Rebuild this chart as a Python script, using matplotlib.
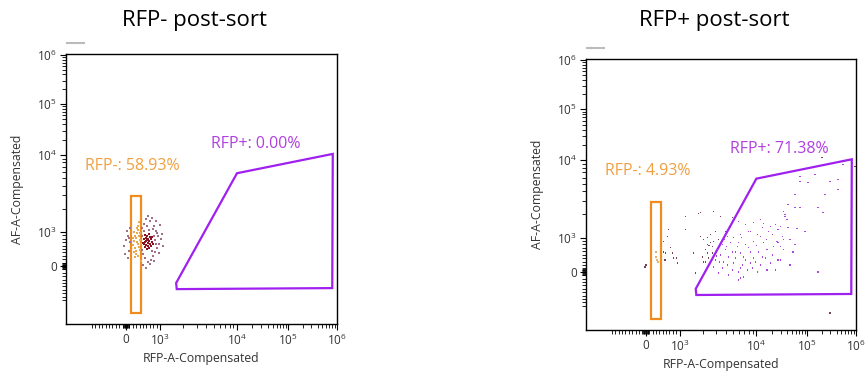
import numpy as np
import matplotlib
matplotlib.use('Agg')
import matplotlib.pyplot as plt
from matplotlib.patches import Polygon
from matplotlib.path import Path

plt.rcParams['font.family'] = ['Open Sans', 'DejaVu Sans']
plt.rcParams['mathtext.default'] = 'regular'

# ---------------- data ----------------
titles = ['RFP- post-sort', 'RFP+ post-sort']
neg_pct = [58.93, 4.93]
pos_pct = [0.00, 71.38]

# gates in (RFP-A, AF-A) units
neg_gate_x = [160, 440, 440, 160]
neg_gate_y = [-1380, -1380, 2930, 2930]
pos_gate_x = [1620, 10000, 820000, 800000, 1650]
pos_gate_y = [-500, 5800, 10500, -650, -680]

# RFP- sorted sample: dense core and the rest of the cloud
left_core_x = [530, 560, 590, 620, 650, 680, 590, 560, 650, 710, 740, 620, 680, 760, 530,
               500, 710, 590, 650, 740, 790, 560, 680, 620, 760]
left_core_y = [650, 710, 620, 760, 680, 740, 820, 560, 590, 650, 790, 880, 530, 710, 790,
               680, 850, 740, 790, 590, 650, 910, 940, 500, 850]
left_x = [240, 290, 350, 260, 320, 380, 210, 290, 350, 410, 260, 320, 380, 240, 350, 290,
          410, 210, 320, 380, 260, 350, 410, 240,
          -60, 0, 60, 90, 120, 30, -30, 120, 60, 90,
          470, 530, 590, 710, 820, 880, 940, 1030, 970, 910, 850, 790, 740, 650, 560, 500,
          470, 850, 910, 1000, 790, 760, 880, 1060, 820, 710, 590, 500, 440, 970, 1090, 680,
          620, 530, 470, 440, 820, 880, 760, 650]
left_y = [740, 820, 650, 530, 970, 880, 620, 440, 1060, 760, 880, 710, 560, 1000, 1200, 350,
          470, 820, 1130, 1350, 260, 290, 970, 410,
          590, 760, 880, 440, 710, 1030, 350, 1130, 240, 820,
          1130, 1270, 1480, 1390, 1200, 1030, 880, 790, 650, 530, 410, 290, 180, 120, 240, 350,
          470, 760, 970, 1230, 1090, 440, 650, 940, 150, 60, -60, 30, 150, 380, 590, 1060,
          1200, 1030, 880, 650, 880, 1390, 1520, 1610]

# RFP+ sorted sample
right_x = [676, 647, 529, 529, 588, 735, 794, 824, 912, 941, 559, 0, -29, 294, 324, 294, 353,
           1197, 1765, 1875, 1520, 1990, 2177, 2420, 2310, 1613, 1875, 1197, 2763,
           3405, 4875, 7194, 9140, 18800, 13100, 23600, 8356, 6195, 10460, 20600, 4198, 5023,
           3210, 2763, 2528, 2310, 2177, 3614, 4592, 5662, 7194, 9140, 13700, 25800, 16400,
           10940, 8356, 6195, 4875, 3955, 3116, 3405, 4326, 5333, 6777, 9140, 13100, 20600,
           2936, 3724, 5023, 6577, 8356, 11970, 18800, 27000, 2763, 3614, 4875, 5834, 7638,
           10460, 16400, 23600, 3210, 4326, 6777, 5834, 2680, 2380, 2050, 2310, 2936, 2528, 2050,
           4074, 5834, 7925, 10000, 15700, 5333, 7194, 9706, 15000, 4198, 3025, 3840, 6385,
           11970, 7925, 4592, 2680, 3305, 8871, 6195, 33900, 46400, 17200, 11970, 5834, 21600,
           58200, 29600, 3955, 6195, 13700,
           72900, 104800, 146000, 295000, 429000, 429000, 58200, 233000, 42400, 58200, 72900,
           168000, 212000, 33900, 37000, 40500, 29600, 27000, 42400, 63700, 91400, 32400,
           33900, 27000, 29600, 53100, 46400, 168000, 295000, 200000, 543000, 955000, 72900,
           37000]
right_y = [1271, 1030, 882, 588, 559, 706, 559, 412, 412, 265, 353, 206, 147, 441, 353, 588, 294,
           1875, 2050, 1030, 559, 441, 294, 765, 559, -29, 2110, 1271, 2177,
           1875, 1820, 1475, 1565, 1390, 1350, 1475, 1197, 1093, 1093, 1093, 1030, 1000,
           941, 882, 853, 794, 647, 794, 853, 735, 794, 882, 853, 882, 647,
           588, 588, 559, 588, 647, 647, 500, 441, 412, 441, 412, 441, 500,
           353, 294, 265, 206, 265, 206, 265, 353, 147, 118, 59, 0, 59,
           0, 59, 59, -29, -88, -147, -235, 559, 412, 294, 1000, 1197, 1093, 941,
           735, 853, 706, 765, 941, 588, 353, 294, 412, 206, 470, 941, 1000,
           1030, 1197, 1350, 735, 294, 118, 118, 647, 941, 1197, 1710, 1613, 735,
           794, 353, 1197, -176, 1520,
           5333, 5180, 6577, 5333, 5662, 4198, 3614, 3614, 2680, 2450, 2450,
           2450, 2110, 2177, 1875, 1710, 1390, 1271, 1350, 1310, 1197, 1030,
           941, 853, 735, 588, 206, 0, -1205, 11460, 8871, 8356, 6195,
           2000]

x_ticks = [0, 1e3, 1e4, 1e5, 1e6]
tick_labels = ['0', '$10^3$', '$10^4$', '$10^5$', '$10^6$']

# ---------------- biexponential-like axis ----------------
U_KNOT = [1, 2, 3, 4]
P_KNOT = [34, 111, 162, 211]


def fwd(v):
    v = np.asarray(v, dtype=float)
    u = np.where(v > 1000, 1 + np.log10(np.maximum(v, 1000) / 1000), v / 1000)
    return np.where(u < 1, 34 * u, np.interp(u, U_KNOT, P_KNOT) + 49 * np.maximum(u - 4, 0))


def inv(p):
    p = np.asarray(p, dtype=float)
    u = np.where(p < 34, p / 34, np.interp(p, P_KNOT, U_KNOT) + np.maximum(p - 211, 0) / 49)
    return np.where(u < 1, u * 1000, 1000 * 10 ** (np.maximum(u, 1) - 1))


minor = list(np.arange(-1000, 0, 100)) + list(np.arange(-80, 81, 20)) + list(np.arange(100, 1000, 100))
for d in [1e3, 1e4, 1e5]:
    minor += [d * k for k in range(2, 10)]

ORANGE = '#f08c1e'
ORANGE_TXT = '#f0a040'
PURPLE = '#a020f0'
PURPLE_TXT = '#b040e0'


def in_gate(xs, ys, gx, gy):
    poly = Path(np.column_stack([fwd(gx), fwd(gy)]))
    return poly.contains_points(np.column_stack([fwd(xs), fwd(ys)]))


def setup(ax):
    ax.set_xscale('function', functions=(fwd, inv))
    ax.set_yscale('function', functions=(fwd, inv))
    ax.set_xlim(inv(-60), inv(211))
    ax.set_ylim(inv(-58), inv(212))
    ax.set_xticks(x_ticks, tick_labels)
    ax.set_yticks(x_ticks, tick_labels)
    ax.set_xticks(minor, minor=True)
    ax.set_yticks(minor, minor=True)
    ax.tick_params(which='major', direction='out', length=4.5, width=0.8, labelsize=8.5,
                   labelcolor='#333333', pad=2)
    ax.tick_params(which='minor', direction='out', length=3, width=0.6)
    for s in ax.spines.values():
        s.set_linewidth(1.0)
    ax.set_xlabel('RFP-A-Compensated', fontsize=8.8, color='#333333')
    ax.set_ylabel('AF-A-Compensated', fontsize=8.8, color='#333333')
    ax.xaxis.set_label_coords(0.5, -0.105)
    ax.yaxis.set_label_coords(-0.155, 0.5)
    ax.plot([0.005, 0.065], [1.04, 1.04], transform=ax.transAxes, color='#bbbbbb',
            lw=1.5, clip_on=False)
    ax.add_patch(Polygon(np.column_stack([neg_gate_x, neg_gate_y]), closed=True,
                         fill=False, edgecolor=ORANGE, lw=1.6))
    ax.add_patch(Polygon(np.column_stack([pos_gate_x, pos_gate_y]), closed=True,
                         fill=False, edgecolor=PURPLE, lw=1.6))


fig = plt.figure(figsize=(8.68, 3.76), dpi=100)
ax1 = fig.add_axes([66 / 868, 1 - 324 / 376, 271 / 868, 270 / 376])
ax2 = fig.add_axes([586 / 868, 1 - 330 / 376, 270 / 868, 271 / 376])

# left panel
setup(ax1)
m = in_gate(left_x, left_y, neg_gate_x, neg_gate_y)
cols = np.where(m, '#e8a850', '#a07088')
ax1.scatter(left_x, left_y, s=1.3, c=cols, marker='s', linewidths=0)
ax1.scatter(left_core_x, left_core_y, s=1.6, c='#8b1020', marker='s', linewidths=0)

# right panel
setup(ax2)
mp = in_gate(right_x, right_y, pos_gate_x, pos_gate_y)
mn = in_gate(right_x, right_y, neg_gate_x, neg_gate_y)
cols = np.where(mp, '#a848dc', np.where(mn, '#e8b070', '#7a4060'))
ax2.scatter(right_x, right_y, s=1.3, c=cols, marker='s', linewidths=0)

for ax, t, n, p, tx in [(ax1, titles[0], neg_pct[0], pos_pct[0], 194),
                        (ax2, titles[1], neg_pct[1], pos_pct[1], 714)]:
    ax.text(0.07, 0.585, 'RFP-: %.2f%%' % n, transform=ax.transAxes, color=ORANGE_TXT,
            fontsize=11.5, va='center', ha='left')
    ax.text(0.535, 0.667, 'RFP+: %.2f%%' % p, transform=ax.transAxes, color=PURPLE_TXT,
            fontsize=11.5, va='center', ha='left')
    fig.text(tx / 868, 1 - 26 / 376, t, ha='center', va='baseline', fontsize=16, color='black')

fig.savefig('out.png', dpi=100, facecolor='white')
